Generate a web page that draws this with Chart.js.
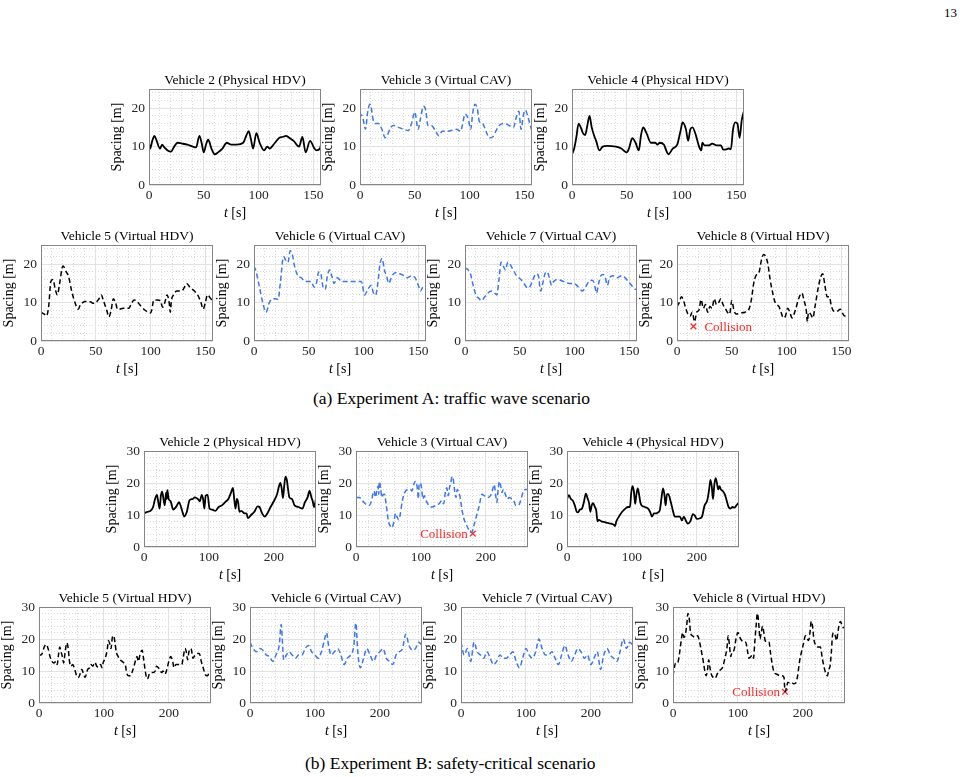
<!DOCTYPE html>
<html>
<head>
<meta charset="utf-8">
<script src="https://cdn.jsdelivr.net/npm/chart.js@4.4.0/dist/chart.umd.min.js"></script>
<style>
body { margin: 0; width: 969px; height: 777px; background: #fff; position: relative; overflow: hidden; font-family: "Liberation Serif", serif; }
canvas { position: absolute; }
.cap { position: absolute; font-size: 17.5px; line-height: 20px; white-space: nowrap; }
</style>
</head>
<body>
<div style="position:absolute;left:944px;top:5px;font-size:13px">13</div>
<div class="cap" style="left:313px;top:388px">(a) Experiment A: traffic wave scenario</div>
<div class="cap" style="left:305px;top:753px">(b) Experiment B: safety-critical scenario</div>
<script>
// tick labels
const A_XT = [0, 50, 100, 150];
const A_YT = [0, 10, 20];
const B_XT = [0, 100, 200];
const B_YT = [0, 10, 20, 30];

// Experiment A: traffic wave scenario
const T_A2 = [0,1,3,5,7,10,12,14,17,20,23,26,30,35,40,43,46,48,50,52,54,57,60,63,67,71,75,80,86,89,91,93,95,98,101,105,108,110,115,119,122,125,128,132,137,140,143,147,151,153,156,157];
const S_A2 = [11,9.5,11.5,12.8,11.5,9.5,10.5,9.8,9,8.7,10,11,10.8,10.5,10,9.8,12.8,11,8.5,10.5,11.8,9.5,8,8.5,9.5,11,10.5,10.5,11,13,14,12,9.5,13.5,11,9,10,9.5,11,12.3,12.5,12.8,12.3,11.5,10,12.5,8.5,11.5,9.5,9,9.5,10.5];

const T_A3 = [0,1,3,5,7,9,10,12,14,17,20,23,25,28,31,35,40,44,47,50,53,55,58,60,62,65,70,72,75,80,88,92,93,96,99,101,103,105,107,109,112,115,118,121,124,127,132,136,140,143,145,147,149,151,153,155,157];
const S_A3 = [17.5,18.3,17,14.5,19,21,20.5,17,16,16,14.5,12.3,13,15,15.5,15,14.5,14.2,16,19,14.5,17,20.5,19.5,15.5,15.5,13.5,12.8,14,14,14.5,14,15,18.5,17,14.5,19,21,20,16.5,16,14,12.3,12.5,14,15.5,16,15.5,15,18,19.2,14.5,18,19.5,18,16,14];

const T_A4 = [0,2,4,6,8,10,12,14,16,18,20,22,25,28,32,40,45,50,52,55,58,61,63,65,68,72,76,78,80,84,86,88,92,96,99,101,104,106,108,110,113,116,118,119,121,125,128,132,136,138,141,143,145,147,149,151,153,155,157];
const S_A4 = [8,9.5,12.5,16,15,13.5,13,15.5,18,15,13,11.5,9,10,10.2,10,9.5,8.5,9.5,12.2,11,9,13,15,13.5,11,11,10.5,11,10.5,9,8,9.5,10.5,14,16.3,14.5,11.5,14.5,15,13,10,9,11,10.3,10.3,10.8,10.3,10.3,9.2,9.3,9.5,9.3,14.5,16.3,16,12.3,17,19.3];

const T_A5 = [0,3,5,7,9,11,13,15,17,20,23,25,28,31,34,36,38,40,45,48,50,53,55,57,60,62,64,66,68,70,75,80,83,85,88,90,95,100,101,103,106,109,111,113,115,117,118,119,121,124,128,130,133,136,140,143,146,148,150,152,155,157];
const S_A5 = [7.5,7,6.5,9,15.5,16,13.5,12,15,19.5,18,17,13,10,8.3,9.5,10,10.3,10.2,9.8,10,11,12,10.5,8,6.3,8,11,10,8.2,8.5,8.5,10,10.7,10.2,9.5,8,7.3,8,10.7,10.7,10.5,8.8,10,12,10,7.5,10.5,12,13,13,13.5,15,14,13,12,10,8.3,10,12,11,10.5];

const T_A6 = [0,2,5,8,11,14,17,20,22,24,27,29,31,33,35,37,40,43,47,52,55,57,59,61,63,65,67,69,71,73,76,80,85,90,95,98,101,104,107,109,111,113,115,117,119,121,123,126,129,133,137,140,144,147,150,152,154,157];
const S_A6 = [19.5,18,14,10,7.5,10,11,11,10.8,15,22,21,20.5,23.5,22.5,19.5,17,16.5,15.5,15.5,14,15,18,17.5,14,13.5,17,18.5,17,15,16.5,15.5,15.5,15.5,15.5,15.5,12,13.5,14.5,12.5,12,15,20,21.5,18.5,17,15,17,17.8,17.5,17,16.5,17,16.5,14.5,13,14,14.5];

const T_A7 = [0,3,5,7,10,13,15,18,21,24,27,29,31,33,35,37,39,41,44,47,51,55,57,60,62,65,67,69,71,73,75,77,79,81,84,90,95,99,102,105,107,110,113,116,118,120,122,124,126,128,130,132,135,139,143,146,149,152,155,157];
const S_A7 = [19,18.5,17.5,15,12,11,10.5,11.5,12.5,13,12.5,12,16,20.5,19.5,18.5,20.5,20,18.5,17,16,14.5,13.8,14.5,16,17.5,17,13,15,17.5,18,16.5,14.5,15.5,16,15.5,15,15,14.5,13.5,13,14,15.5,15.8,15,12.5,15,17,17.3,16.5,14.5,16.5,17,16.5,17,16.5,15.5,14.5,13.5,13.5];

const T_A8 = [0,2,4,6,8,10,12,14,16,18,20,22,24,26,28,30,32,34,36,38,40,42,44,46,48,50,52,54,58,62,66,68,70,72,75,77,79,81,83,85,87,89,91,93,95,97,99,101,103,105,108,111,114,116,118,119,120,122,124,126,129,131,133,135,137,139,141,143,146,149,151,153,156,157];
const S_A8 = [9,10,11.5,10.5,8.5,7,6.5,7.5,5,7.5,8,10.8,8.5,9.5,7.5,9,8.5,11,9.5,10,11,9.5,8.5,7.5,7,10.5,8,7,7.3,7.5,8.5,11,15,17,18,21,22.5,22,20,16,13,10.5,9.5,9,7.5,6,6.5,8.5,7.5,6,8,11,12.5,10.5,8,5,7.5,7,6,9,14,16.5,17.5,14.5,11.5,11.5,9,7.8,7.7,8.3,7.3,6.5,7,7];
const HIT_A8 = [15, 3.8];

// Experiment B: safety-critical scenario
const T_B2 = [0,5,10,14,17,20,22,24,26,28,30,32,34,35,36,38,41,45,50,54,57,60,62,66,70,75,78,83,86,89,91,93,95,98,101,105,110,115,120,125,130,134,137,139,141,143,145,147,150,155,158,160,165,170,175,178,182,186,190,195,200,205,208,210,212,214,216,218,220,222,224,228,232,238,244,248,252,255,258,260,262,265];
const S_B2 = [10.5,11,11.3,12.5,15,16.3,14,12,16,17.3,15,13,17,15,17.8,15,14.3,11.7,12.7,14,12.5,10.5,9.5,11,14.5,15,15.5,15,14.3,16.3,15,12,16,16.3,12,11.7,11.3,12.5,13,14,15,17,18.5,15,12,15,14,11,11.3,10.5,10.5,9,10,11,12.7,12.5,10.5,9.5,10.5,12.5,14.3,16.5,19,20,18.5,15.3,19,22,21,18,15.5,15,13,12.5,12,14,15.5,17.5,15.5,14.3,12.5,15];

const T_B3 = [0,5,8,12,16,20,24,26,28,30,32,34,35,36,38,40,42,44,46,48,50,53,55,58,61,63,66,68,71,75,80,84,86,89,91,93,95,96,97,99,101,103,105,108,112,117,123,128,132,135,138,140,142,144,146,148,150,152,154,156,158,160,163,166,170,175,178,182,186,190,194,198,203,207,210,213,215,217,219,221,223,225,227,230,233,236,240,243,246,250,252,255,258,261,265];
const S_B3 = [15.5,15.5,15,14,13.3,13,14.5,16.5,17.5,15.5,17.5,19,16.5,20.5,18,15.5,16.5,16.5,14,11,8,6.5,6,7.5,10.5,9.5,8.5,10,14,17,18,18,17.5,19.5,20.5,20,17.5,15,19,20,18.5,15,16,14.5,13,12.5,13,13.5,14.5,13.5,17.5,18.5,16,18.5,20,22,21,17.5,15.5,18,17,16,12,9,7,5,4.5,7,10,13,16.5,16,15.5,16,17.5,19.5,16.5,14,18,20.5,19,17,18,16.5,15,15.5,15,14.5,13,13,13.5,15.5,17.5,18,18];
const HIT_B3 = [180, 4.2];

const T_B4 = [0,3,6,9,12,15,17,20,23,26,29,32,34,36,38,40,43,45,47,49,53,58,63,68,72,74,76,80,85,90,94,97,99,101,103,105,107,109,111,113,115,120,125,128,131,134,137,140,143,146,148,150,152,154,156,160,163,166,170,174,177,180,183,186,190,194,197,200,205,208,212,216,219,221,223,225,227,229,231,233,235,237,240,243,246,249,252,255,258,261,265];
const S_B4 = [15,16.2,15,14.5,13,11,10.8,11.7,12,14,16.7,15,13.7,11,13,13.7,12.5,11.5,8,8.5,8,7.8,7.5,7.3,7,6.5,8,9.5,11,12,12.5,12.5,17,19,17.5,13.5,16.5,18.3,16.5,14,13,12.5,12,11,9.5,10.5,10.5,10.8,11.5,16,18.3,16.5,13,16.5,16.5,14,11.5,9.5,9.5,9.5,8.3,9.5,8.3,7.3,8,10.3,9.8,8.8,9,9.5,13,14.5,18,21,19,15,19.5,21.5,20,18,19,18,17.5,16.5,14.5,12.5,12,12.5,12.3,13,14];

const T_B5 = [0,3,5,8,11,14,17,20,23,26,28,30,32,34,36,38,40,43,45,47,49,52,55,58,61,64,66,68,71,73,75,78,80,83,86,89,92,95,97,99,102,105,107,109,111,113,115,117,119,122,125,128,131,133,135,138,141,144,147,149,151,153,156,159,161,163,165,167,170,173,176,179,181,184,187,189,191,194,197,200,203,206,208,211,214,217,220,222,225,227,229,231,233,235,237,239,241,244,247,250,253,256,259,262,265];
const S_B5 = [15,15,15.5,17.5,18.3,17,14.5,13,12.5,13,12,15,17.5,16,14.5,12.5,15.5,18.8,17,13,11.5,12,10.5,8.5,8,9.5,10.5,9.5,8,9,10.5,11,12,11.5,12.7,11.5,11.2,12,11,12.7,14,16.5,19.5,18.5,17,20.5,21,19,16,14.5,13.5,13,12.5,12,9.5,8.5,8.5,10,12,13.5,14.5,13,15.5,16.5,14,11,8.5,7.5,9,9.5,9.5,10,11.5,11,10,9.5,10,9,10.5,13,14.5,13,11,12,12,12,12,14,17,16,13.5,16,17,16.5,14,14.5,15,15.5,15.5,13,11,9,8.5,9,9];

const T_B6 = [0,5,10,15,20,25,30,35,40,45,48,52,56,60,65,70,75,80,85,90,95,100,105,110,115,118,121,125,130,135,140,145,150,155,160,163,166,170,175,180,185,190,195,200,205,210,215,220,225,230,235,240,245,250,255,260,265];
const S_B6 = [19,17,16,17,16.5,15,14.5,13,15,18,24.5,13.5,15,16,15,14,15,15,17,18,16,15,14,16,20,22,18,15,16,17,15,12,14,15,18,25,16,11,14,17,15,13,15,16,17,14,13,12,15,16,17,21.5,18,16.5,17,19,18];

const T_B7 = [0,5,10,15,20,25,30,35,40,45,50,55,60,65,70,75,80,85,90,95,100,105,110,115,120,125,130,135,140,145,150,155,160,165,170,175,180,185,190,195,200,205,210,215,220,225,230,235,240,245,250,255,260,265];
const S_B7 = [19,15,17,13,19,16,15,14,16,14,12,13,15,14,14,15,16,13,11,14,17,15,14,16,20,17,15,15,16,14,12,15,18,15,13,15,17,16,14,15,12,14,16,10.5,15,17,15,14,13,16,20,17,19,18];

const T_B8 = [0,2,4,7,9,11,13,15,17,19,21,23,25,27,30,34,38,41,44,47,49,51,53,55,57,59,62,65,68,71,74,77,80,83,85,87,89,91,94,97,100,103,106,109,112,115,117,120,122,124,126,128,130,132,134,136,138,140,142,145,148,150,153,156,160,165,168,171,172,173,175,177,179,182,186,189,192,195,198,201,204,207,209,211,213,215,217,220,223,227,230,233,236,238,240,242,244,246,248,250,252,254,256,258,260,262,265];
const S_B8 = [8.5,11,12.5,12.5,14,17,20,22,20.5,21.5,24,28,26.5,22,21,20.5,21,19,16,12.5,10,8.5,10,13.5,11,9,8,7.7,9,10,10.5,11.5,14,17,21,18,14.5,16,16.5,20,22,20.5,19.5,19,19,16,14,14.5,15,14,19,24,28,25,20,22,24,22,19.5,19,19,16,12,9.5,9,8.5,8.5,8,5,3.5,5,6.5,6.3,6.5,6,6.3,8.5,13,16,18.5,21,20,19.5,22,25.5,24,20,18,17.5,17.5,14,11,9,8.5,10.5,11.5,16,21.5,22,21,19.5,22,24.5,25.5,24.5,23.5,24];
const HIT_B8 = [172.5, 3.5];

const BLUE = '#3d76e8';
const RED = '#ff2525';
const FONT = '"Liberation Serif", "Times New Roman", serif';

// title, t, s, kind, experiment, plot left, plot top, collision, label side
const PANELS = [
  ['Vehicle 2 (Physical HDV)', T_A2, S_A2, 'phys', 'A', 149, 89],
  ['Vehicle 3 (Virtual CAV)',  T_A3, S_A3, 'vcav', 'A', 360, 89],
  ['Vehicle 4 (Physical HDV)', T_A4, S_A4, 'phys', 'A', 572, 89],
  ['Vehicle 5 (Virtual HDV)',  T_A5, S_A5, 'vhdv', 'A', 41, 245],
  ['Vehicle 6 (Virtual CAV)',  T_A6, S_A6, 'vcav', 'A', 254, 245],
  ['Vehicle 7 (Virtual CAV)',  T_A7, S_A7, 'vcav', 'A', 465, 245],
  ['Vehicle 8 (Virtual HDV)',  T_A8, S_A8, 'vhdv', 'A', 677, 245, HIT_A8, 'right'],
  ['Vehicle 2 (Physical HDV)', T_B2, S_B2, 'phys', 'B', 144, 451],
  ['Vehicle 3 (Virtual CAV)',  T_B3, S_B3, 'vcav', 'B', 356, 451, HIT_B3, 'left'],
  ['Vehicle 4 (Physical HDV)', T_B4, S_B4, 'phys', 'B', 567, 451],
  ['Vehicle 5 (Virtual HDV)',  T_B5, S_B5, 'vhdv', 'B', 39, 607],
  ['Vehicle 6 (Virtual CAV)',  T_B6, S_B6, 'vcav', 'B', 250, 607],
  ['Vehicle 7 (Virtual CAV)',  T_B7, S_B7, 'vcav', 'B', 461, 607],
  ['Vehicle 8 (Virtual HDV)',  T_B8, S_B8, 'vhdv', 'B', 673, 607, HIT_B8, 'left']
];

const PADL = 55, PADT = 24, PW = 172, PH = 96, PADR = 12, PADB = 45;

// box around the axes, italic t label, collision text
const decor = {
  id: 'decor',
  afterDraw(chart, args, opts) {
    const ctx = chart.ctx, a = chart.chartArea;
    ctx.save();
    ctx.strokeStyle = '#858585';
    ctx.lineWidth = 1;
    ctx.strokeRect(Math.round(a.left) + 0.5, Math.round(a.top) + 0.5, Math.round(a.right - a.left) - 1, Math.round(a.bottom - a.top) - 1);

    ctx.fillStyle = '#000';
    ctx.textBaseline = 'middle';
    ctx.font = 'italic 14px ' + FONT;
    const wt = ctx.measureText('t').width;
    ctx.font = '14px ' + FONT;
    const ws = ctx.measureText(' [s]').width;
    const x0 = (a.left + a.right) / 2 - (wt + ws) / 2, y0 = a.bottom + 28;
    ctx.textAlign = 'left';
    ctx.font = 'italic 14px ' + FONT;
    ctx.fillText('t', x0, y0);
    ctx.font = '14px ' + FONT;
    ctx.fillText(' [s]', x0 + wt, y0);

    if (opts.hit) {
      const px = chart.scales.x.getPixelForValue(opts.hit[0]);
      const py = chart.scales.y.getPixelForValue(opts.hit[1]);
      ctx.fillStyle = RED;
      ctx.font = '13px ' + FONT;
      if (opts.side === 'right') { ctx.textAlign = 'left'; ctx.fillText('Collision', px + 11, py + 1); }
      else { ctx.textAlign = 'right'; ctx.fillText('Collision', px - 5, py + 1); }
    }
    ctx.restore();
  }
};

PANELS.forEach(p => {
  const [title, t, s, kind, exp, L, T, hit, side] = p;
  const cv = document.createElement('canvas');
  cv.width = PADL + PW + PADR;
  cv.height = PADT + PH + PADB;
  cv.style.left = (L - PADL) + 'px';
  cv.style.top = (T - PADT) + 'px';
  document.body.appendChild(cv);

  const XT = exp === 'A' ? A_XT : B_XT;
  const YT = exp === 'A' ? A_YT : B_YT;
  const xmax = exp === 'A' ? 157 : 265;
  const ymax = exp === 'A' ? 25 : 30;

  const datasets = [{
    type: 'line',
    data: t.map((v, i) => ({ x: v, y: s[i] })),
    borderColor: kind === 'vcav' ? BLUE : '#000',
    borderWidth: kind === 'phys' ? 1.8 : 1.5,
    borderDash: kind === 'phys' ? [] : [5, 3],
    pointRadius: 0,
    cubicInterpolationMode: 'monotone',
    fill: false
  }];
  if (hit) {
    datasets.push({
      type: 'scatter',
      data: [{ x: hit[0], y: hit[1] }],
      pointStyle: 'crossRot',
      pointRadius: 4,
      borderColor: RED,
      borderWidth: 1.3,
      showLine: false
    });
  }

  const tickFont = { family: FONT, size: 13.5 };
  new Chart(cv, {
    type: 'line',
    data: { datasets },
    options: {
      responsive: false,
      animation: false,
      devicePixelRatio: 1,
      events: [],
      layout: { padding: { left: 0, top: 0, right: PADR, bottom: 0 } },
      plugins: {
        legend: { display: false },
        tooltip: { enabled: false },
        title: {
          display: true, text: title, fullSize: false, color: '#000',
          font: { family: FONT, size: 13.5, weight: 'normal', lineHeight: 1.2 },
          padding: { top: 7.5, bottom: 0.3 }
        },
        decor: { hit, side }
      },
      scales: {
        xm: {
          type: 'linear', min: 0, max: xmax, position: 'bottom',
          ticks: { display: false, stepSize: exp === 'A' ? 10 : 20, includeBounds: false },
          grid: { color: '#dadada', drawTicks: false },
          border: { display: false, dash: [1, 2] },
          afterFit: sc => { sc.height = 0; }
        },
        ym: {
          type: 'linear', min: 0, max: ymax, position: 'left',
          ticks: { display: false, stepSize: 2, includeBounds: false },
          grid: { color: '#dadada', drawTicks: false },
          border: { display: false, dash: [1, 2] },
          afterFit: sc => { sc.width = 0; }
        },
        x: {
          type: 'linear', min: 0, max: xmax, position: 'bottom',
          afterBuildTicks: ax => { ax.ticks = XT.map(v => ({ value: v })); },
          ticks: { font: tickFont, color: '#262626', padding: 2, maxRotation: 0, autoSkip: false },
          grid: { color: '#e2e2e2', drawTicks: false },
          border: { display: false },
          afterFit: sc => { sc.height = PADB; }
        },
        y: {
          type: 'linear', min: 0, max: ymax, position: 'left',
          afterBuildTicks: ax => { ax.ticks = YT.map(v => ({ value: v })); },
          ticks: { font: tickFont, color: '#262626', padding: 4 },
          grid: { color: '#e2e2e2', drawTicks: false },
          border: { display: false },
          title: { display: true, text: 'Spacing [m]', color: '#000', font: { family: FONT, size: 14 }, padding: { top: 14.5, bottom: 0 } },
          afterFit: sc => { sc.width = PADL; }
        }
      }
    },
    plugins: [decor]
  });
});
</script>
</body>
</html>
